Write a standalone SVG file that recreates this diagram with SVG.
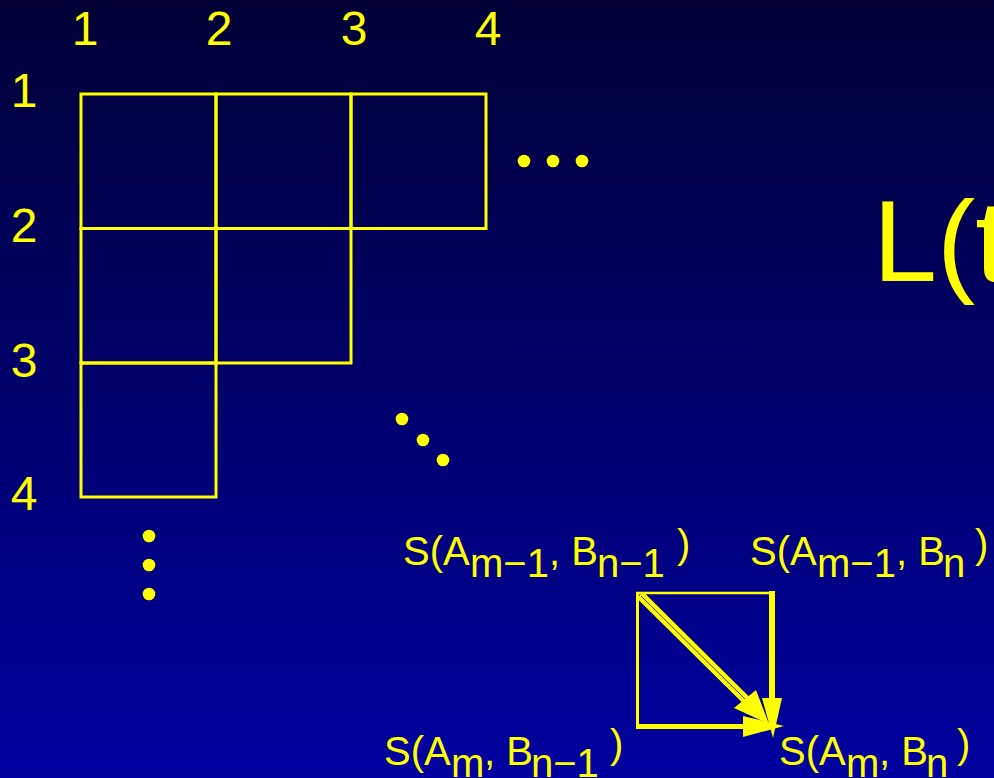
<svg xmlns="http://www.w3.org/2000/svg" width="994" height="778" viewBox="0 0 994 778">
<defs>
<linearGradient id="bg" x1="0" y1="0" x2="0" y2="1">
<stop offset="0" stop-color="#000036"/>
<stop offset="1" stop-color="#0000A0"/>
</linearGradient>
</defs>
<style>
.t{font-family:"Liberation Sans",Arial,sans-serif;fill:#FFFF00}
.n{font-size:48px;text-anchor:middle}
.s{font-size:40px}
.g{fill:none;stroke:#FFFF00;stroke-width:3}
.d{fill:#FFFF00}
.y{fill:#FFFF00;stroke:none}
</style>
<rect x="0" y="0" width="994" height="778" fill="url(#bg)"/>
<g id="col-labels" class="t n">
<text x="85" y="45">1</text>
<text x="219" y="45">2</text>
<text x="354" y="45">3</text>
<text x="488" y="45">4</text>
</g>
<g id="row-labels" class="t n">
<text x="24" y="107">1</text>
<text x="24" y="242">2</text>
<text x="24" y="377">3</text>
<text x="24" y="510">4</text>
</g>
<g id="grid">
<rect class="g" x="81" y="94" width="135" height="134.5"/>
<rect class="g" x="216" y="94" width="135" height="134.5"/>
<rect class="g" x="351" y="94" width="135" height="134.5"/>
<rect class="g" x="81" y="228.5" width="135" height="134.5"/>
<rect class="g" x="216" y="228.5" width="135" height="134.5"/>
<rect class="g" x="81" y="363" width="135" height="134"/>
</g>
<g id="dots">
<circle class="d" cx="524" cy="161" r="6.3"/>
<circle class="d" cx="553" cy="161" r="6.3"/>
<circle class="d" cx="582" cy="161" r="6.3"/>
<circle class="d" cx="149" cy="536" r="6.3"/>
<circle class="d" cx="149" cy="565" r="6.3"/>
<circle class="d" cx="149" cy="594" r="6.3"/>
<circle class="d" cx="402" cy="419" r="6.3"/>
<circle class="d" cx="423" cy="440" r="6.3"/>
<circle class="d" cx="443" cy="460" r="6.3"/>
</g>
<g id="title">
<text class="t" x="873" y="281" font-size="115">L(t</text>
</g>
<g id="cell">
<line x1="637.5" y1="593" x2="637.5" y2="728" stroke="#FFFF00" stroke-width="3"/>
<line x1="636" y1="593" x2="775" y2="593" stroke="#FFFF00" stroke-width="2.5"/>
</g>
<g id="connectors">
<line x1="772" y1="591" x2="772" y2="700" stroke="#FFFF00" stroke-width="6"/>
<polygon class="y" points="762,698 782,698 773,738"/>
<line x1="636" y1="726.5" x2="745" y2="726.5" stroke="#FFFF00" stroke-width="5"/>
<polygon class="y" points="743,716 743,737 784,726"/>
<line x1="640" y1="595" x2="748" y2="702" stroke="#FFFF00" stroke-width="9"/>
<line x1="641" y1="596" x2="745" y2="699" stroke="#000080" stroke-width="0.8"/>
<polygon class="y" points="734,708 756,690 769,724"/>
</g>
<g id="label-m1-n1" class="t s">
<text x="403" y="565">S(A<tspan x="470" dy="12">m−1</tspan><tspan x="549" dy="-12">, B</tspan><tspan x="597" dy="12">n−1</tspan></text>
<text x="677" y="558">)</text>
</g>
<g id="label-m1-n" class="t s">
<text x="750" y="565">S(A<tspan x="817" dy="12">m−1</tspan><tspan x="896" dy="-12">, B</tspan><tspan x="943" dy="12">n</tspan></text>
<text x="975" y="558">)</text>
</g>
<g id="label-m-n1" class="t s">
<text x="384" y="765">S(A<tspan x="451" dy="12">m</tspan><tspan x="484" dy="-12">, B</tspan><tspan x="531" dy="12">n−1</tspan></text>
<text x="610" y="758">)</text>
</g>
<g id="label-m-n" class="t s">
<text x="779" y="765">S(A<tspan x="846" dy="12">m</tspan><tspan x="879" dy="-12">, B</tspan><tspan x="926" dy="12">n</tspan></text>
<text x="957" y="758">)</text>
</g>
</svg>
